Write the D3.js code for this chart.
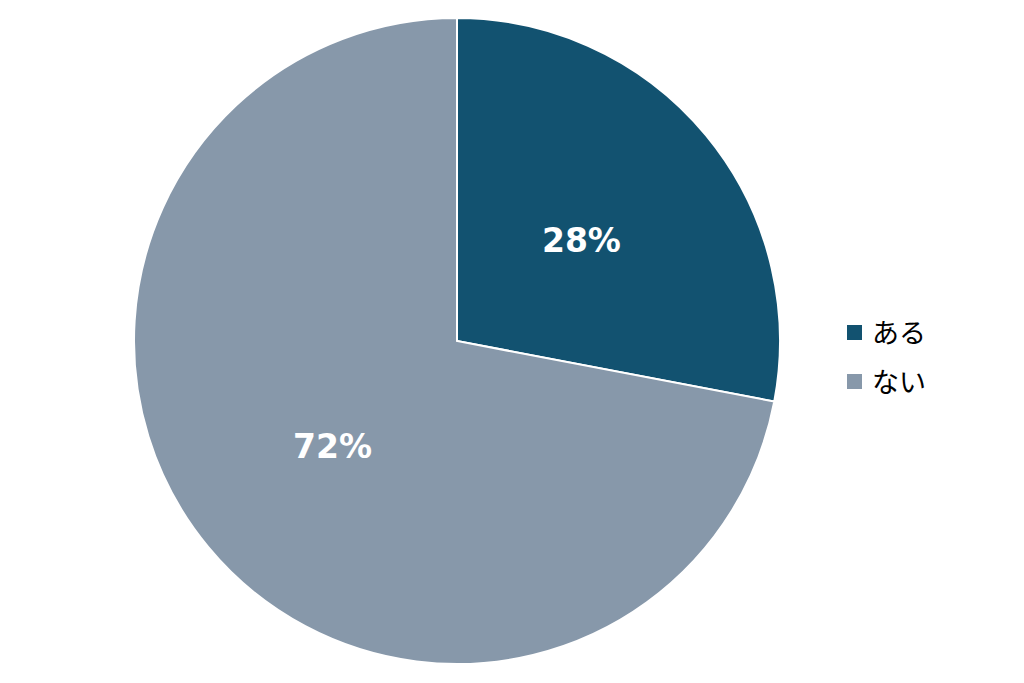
<!DOCTYPE html>
<html><head><meta charset="utf-8">
<script src="https://cdn.jsdelivr.net/npm/d3@7"></script>
<style>html,body{margin:0;padding:0;background:#fff;}</style>
</head><body>
<svg id="chart" width="1024" height="683"></svg>
<script>
const categories = ["ある", "ない"];
const values = [28, 72];
const colors = ["#125270", "#8798AA"];

const svg = d3.select("#chart");
const cx = 457, cy = 341, r = 323;
const g = svg.append("g").attr("transform", `translate(${cx},${cy})`);
const pie = d3.pie().sort(null).value(d => d)(values);
const arc = d3.arc().innerRadius(0).outerRadius(r);
const labelArc = d3.arc().innerRadius(r * 0.5).outerRadius(r * 0.5);

g.selectAll("path").data(pie).join("path")
  .attr("d", arc)
  .attr("fill", (d, i) => colors[i])
  .attr("stroke", "#fff").attr("stroke-width", 2);

g.selectAll("text").data(pie).join("text")
  .attr("transform", d => `translate(${labelArc.centroid(d)})`)
  .attr("text-anchor", "middle").attr("dy", "0.42em")
  .attr("fill", "#fff")
  .style("font-family", "DejaVu Sans, sans-serif")
  .style("font-weight", "bold").style("font-size", "33px")
  .text(d => d.data + "%");

const leg = svg.append("g");
categories.forEach((c, i) => {
  const y = 333 + i * 49;
  leg.append("rect").attr("x", 847).attr("y", y - 8).attr("width", 15).attr("height", 15).attr("fill", colors[i]);
  leg.append("text").attr("x", 872).attr("y", y).attr("dy", "0.36em")
    .style("font-family", "Noto Sans CJK JP, sans-serif").style("font-size", "27px")
    .attr("fill", "#000").text(c);
});
</script>
</body></html>
